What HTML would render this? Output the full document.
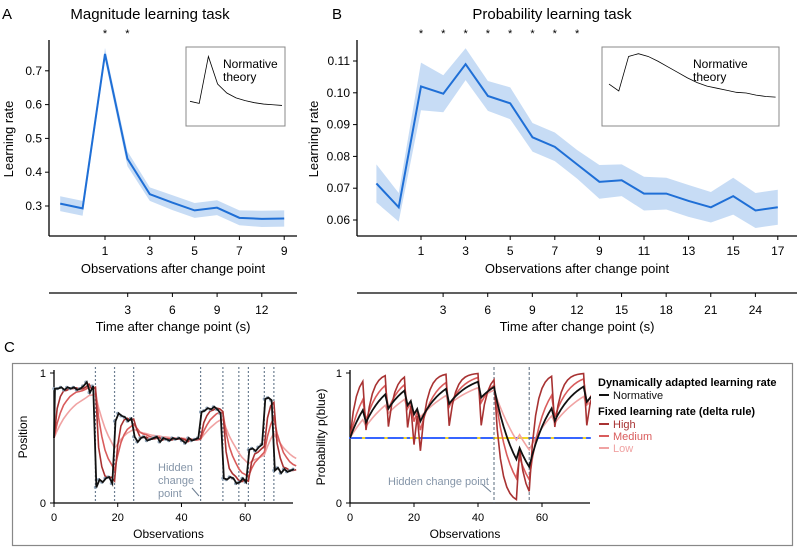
<!DOCTYPE html>
<html><head><meta charset="utf-8"><style>
body{margin:0;background:#fff}
svg{font-family:"Liberation Sans",sans-serif}
</style></head><body>
<svg id="fig" width="800" height="550" viewBox="0 0 800 550" xmlns="http://www.w3.org/2000/svg">
<g id="gA"></g>
<g id="gB"></g>
<g id="gC"></g>
</svg>
<script>
// Panel A data
const aObs = [-1,0,1,2,3,4,5,6,7,8,9];
const aMean = [0.307,0.293,0.75,0.44,0.335,0.31,0.287,0.295,0.265,0.262,0.263];
const aErr = [0.022,0.022,0.018,0.022,0.02,0.022,0.022,0.022,0.022,0.024,0.024];
const aInset = [0.3,0.27,0.95,0.55,0.42,0.35,0.31,0.28,0.26,0.25,0.24];
const aYTicks = [0.3,0.4,0.5,0.6,0.7];
const aXTicks = [1,3,5,7,9];
const aTimeTicks = [3,6,9,12];
const aStars = [1,2];
// Panel B data
const bObs = [-1,0,1,2,3,4,5,6,7,8,9,10,11,12,13,14,15,16,17];
const bMean = [0.0715,0.064,0.102,0.0997,0.109,0.099,0.0967,0.086,0.083,0.0775,0.072,0.0725,0.0683,0.0683,0.066,0.064,0.0675,0.063,0.064];
const bErr = [0.006,0.0045,0.0075,0.0058,0.005,0.0047,0.005,0.0045,0.0045,0.0045,0.0053,0.005,0.0053,0.005,0.005,0.0048,0.0058,0.0055,0.0055];
const bInset = [0.55,0.45,0.95,0.99,0.95,0.88,0.8,0.72,0.64,0.57,0.52,0.49,0.46,0.43,0.42,0.39,0.37,0.36];
const bYTicks = [0.06,0.07,0.08,0.09,0.10,0.11];
const bXTicks = [1,3,5,7,9,11,13,15,17];
const bTimeTicks = [3,6,9,12,15,18,21,24];
const bStars = [1,2,3,4,5,6,7,8];
// Panel C left data
const cChangePoints = [13,19,25,46,53,58,61,66,69];
const cSegStarts = [0,13,19,25,46,53,61,66,69];
const cSegLevels = [0.88,0.16,0.65,0.49,0.71,0.18,0.41,0.78,0.25];
const cNoise = [0,0,.01,-.01,.01,0,.01,-.01,0,.02,.05,-.03,.02,-.04,.02,0,.03,.04,-.01,-.02,.04,.02,.01,-.02,0,.02,-.02,.01,.02,-.01,0,.01,.02,-.02,.01,0,-.01,.01,0,.01,-.01,-.03,.01,-.01,0,.01,-.01,0,.02,.01,.03,.01,-.02,.01,0,.02,.01,-.03,-.02,.01,-.02,0,.01,-.01,.02,.04,.02,.03,.01,0,.02,-.02,.01,-.01,0,.01];
// Panel C right data (1 = blue, 0 = yellow)
const cOutcomes = [1,1,1,1,0,1,1,1,1,1,1,0,1,1,1,1,1,0,1,0,1,0,1,1,1,1,1,1,1,1,0,1,1,1,1,1,1,1,1,1,0,1,1,1,1,0,0,0,0,0,0,0,1,0,0,0,1,1,1,1,1,1,1,0,1,1,1,1,1,1,1,1,1,0,1,1];
const cRightCP = [45,56];

const NS="http://www.w3.org/2000/svg";
function mk(tag,attrs,parent,text){const e=document.createElementNS(NS,tag);for(const k in attrs)e.setAttribute(k,attrs[k]);if(text!==undefined)e.textContent=text;parent.appendChild(e);return e;}

function panel(g,cfg){
  const sx=v=>cfg.x0+(v-cfg.xv0)*cfg.xs;
  const sy=v=>cfg.y0-(v-cfg.yv0)*cfg.ys;
  let up=cfg.obs.map((o,i)=>sx(o)+','+sy(cfg.mean[i]+cfg.err[i]));
  let dn=cfg.obs.map((o,i)=>sx(o)+','+sy(cfg.mean[i]-cfg.err[i])).reverse();
  let band=mk('polygon',{points:up.concat(dn).join(' '),fill:'#c7dcf5'},g);
  
  
  let ln=mk('polyline',{points:cfg.obs.map((o,i)=>sx(o)+','+sy(cfg.mean[i])).join(' '),fill:'none',stroke:'#1f6fd6','stroke-width':2},g);
  
  
  mk('line',{x1:cfg.axX,y1:cfg.axTop,x2:cfg.axX,y2:236,stroke:'#000','stroke-width':1.3,},g);
  mk('line',{x1:cfg.axX,y1:236,x2:cfg.axR,y2:236,stroke:'#000','stroke-width':1.3,},g);
  cfg.yt.forEach(t=>{
    mk('line',{x1:cfg.axX-4,y1:sy(t),x2:cfg.axX,y2:sy(t),stroke:'#000'},g);
    let tx=mk('text',{x:cfg.axX-7,y:sy(t)+4,'font-size':12,'text-anchor':'end'},g,cfg.yfmt(t));
    
    
  });
  cfg.xt.forEach(t=>{
    mk('line',{x1:sx(t),y1:236,x2:sx(t),y2:240,stroke:'#000'},g);
    let tx=mk('text',{x:sx(t),y:255,'font-size':12,'text-anchor':'middle'},g,String(t));
    
    
  });
  cfg.stars.forEach(t=>{
    let s=mk('text',{x:sx(t),y:37,'font-size':11,'text-anchor':'middle'},g,'*');
    
    
  });
  mk('text',{x:(cfg.axX+cfg.axR)/2,y:273,'font-size':13,'text-anchor':'middle',},g,'Observations after change point');
  mk('line',{x1:cfg.axX,y1:293,x2:cfg.axR,y2:293,stroke:'#000','stroke-width':1.3,},g);
  cfg.tt.forEach(t=>{
    const x=cfg.tx0+t*cfg.txs;
    mk('line',{x1:x,y1:293,x2:x,y2:297,stroke:'#000'},g);
    let tx=mk('text',{x:x,y:314,'font-size':12,'text-anchor':'middle'},g,String(t));
    
    
  });
  mk('text',{x:(cfg.axX+cfg.axR)/2,y:331,'font-size':13,'text-anchor':'middle',},g,'Time after change point (s)');
  mk('text',{x:cfg.ylx,y:139,'font-size':13,'text-anchor':'middle',transform:`rotate(-90 ${cfg.ylx} 139)`,},g,'Learning rate');
  mk('text',{x:cfg.titleX,y:19,'font-size':15,'text-anchor':'middle',},g,cfg.title);
  mk('text',{x:cfg.letX,y:19,'font-size':15,},g,cfg.letter);
  const r=cfg.inset;
  mk('rect',{x:r[0],y:r[1],width:r[2],height:r[3],fill:'#fff',stroke:'#888',},g);
  let ip=mk('polyline',{points:cfg.insetData.map((v,i)=>(r[0]+r[4]+i*r[5])+','+(r[1]+r[3]-4-v*(r[3]-10))).join(' '),fill:'none',stroke:'#000','stroke-width':0.8},g);
  
  
  mk('text',{x:r[6],y:r[1]+21,'font-size':12},g,'Normative');
  mk('text',{x:r[6],y:r[1]+34,'font-size':12},g,'theory');
}

panel(document.getElementById('gA'),{obs:aObs,mean:aMean,err:aErr,x0:105,xv0:1,xs:22.4,y0:206,yv0:0.3,ys:338,
  axX:49,axR:297,axTop:40,yt:aYTicks,yfmt:t=>t.toFixed(1),xt:aXTicks,tt:aTimeTicks,tx0:83,txs:14.9,stars:aStars,
  ylx:13,title:'Magnitude learning task',titleX:150,letter:'A',letX:2,inset:[186,47,99,79,4,9.2,223],insetData:aInset});
panel(document.getElementById('gB'),{obs:bObs,mean:bMean,err:bErr,x0:421,xv0:1,xs:22.3,y0:220,yv0:0.06,ys:3180,
  axX:357,axR:797,axTop:40,yt:bYTicks,yfmt:t=>t.toFixed(2),xt:bXTicks,tt:bTimeTicks,tx0:398.5,txs:14.87,stars:bStars,
  ylx:318,title:'Probability learning task',titleX:552,letter:'B',letX:332,inset:[602,47,177,79,7,9.8,693],insetData:bInset});

// Panel C
const gC=document.getElementById('gC');
mk('text',{x:4,y:352,'font-size':15,},gC,'C');
mk('rect',{x:12.5,y:363.5,width:780,height:182,fill:'#fff',stroke:'#888','stroke-width':1.2,},gC);
const colHigh='#a83232',colMed='#d95c5c',colLow='#f0a3a3';
function delta(obs,a,start){let v=start,out=[];obs.forEach(o=>{out.push(v);v=v+a*(o-v);});out.push(v);return out;}
function drawLine(g,vals,sx,sy,col,w,name){
  let p=mk('polyline',{points:vals.map((v,i)=>sx(i)+','+sy(v)).join(' '),fill:'none',stroke:col,'stroke-width':w},g);
  
  
}
function cAxes(g,x0,x1,yl){
  const sx=v=>x0+v*(x1-x0)/75, sy=v=>503-v*130;
  mk('line',{x1:x0,y1:370,x2:x0,y2:503,stroke:'#000','stroke-width':1.3},g);
  mk('line',{x1:x0,y1:503,x2:x1,y2:503,stroke:'#000','stroke-width':1.3},g);
  [0,1].forEach(t=>{mk('line',{x1:x0-4,y1:sy(t),x2:x0,y2:sy(t),stroke:'#000'},g);
    mk('text',{x:x0-8,y:sy(t)+4,'font-size':11,'text-anchor':'end'},g,String(t));});
  [0,20,40,60].forEach(t=>{mk('line',{x1:sx(t),y1:503,x2:sx(t),y2:507,stroke:'#000'},g);
    mk('text',{x:sx(t),y:521,'font-size':11,'text-anchor':'middle'},g,String(t));});
  mk('text',{x:(x0+x1)/2-5,y:538,'font-size':12,'text-anchor':'middle',},g,'Observations');
  mk('text',{x:yl,y:437,'font-size':12,'text-anchor':'middle',transform:`rotate(-90 ${yl} 437)`,},g,yl<100?'Position':'Probability p(blue)');
  return [sx,sy];
}
// left
const gL=mk('g',{},gC);
const [lx,ly]=cAxes(gL,54,293,27);
const lObs=[];for(let i=0;i<76;i++){let s=0;cSegStarts.forEach((st,k)=>{if(i>=st)s=k;});lObs.push(cSegLevels[s]+cNoise[i]);}
cChangePoints.forEach(c=>{let l=mk('line',{x1:lx(c),y1:367,x2:lx(c),y2:503,stroke:'#6d7f92','stroke-width':1.2,'stroke-dasharray':'2,2'},gL);
  });
drawLine(gL,delta(lObs,0.15,0.5),lx,ly,colLow,1.6,'low-rate-line');
drawLine(gL,delta(lObs,0.3,0.5),lx,ly,colMed,1.6,'medium-rate-line');
drawLine(gL,delta(lObs,0.6,0.5),lx,ly,colHigh,1.6,'high-rate-line');
lObs.forEach((v,i)=>{let c=mk('circle',{cx:lx(i),cy:ly(v),r:1.6,fill:'#8fa3b8'},gL);});
drawLine(gL,[0.5].concat(lObs),i=>lx(Math.max(0,i-0.7)),ly,'#111',1.8,'normative-line');
mk('text',{x:158,y:471,'font-size':11,fill:'#8595a8'},gL,'Hidden');
mk('text',{x:158,y:484,'font-size':11,fill:'#8595a8'},gL,'change');
mk('text',{x:158,y:497,'font-size':11,fill:'#8595a8'},gL,'point');
mk('line',{x1:192,y1:488,x2:199,y2:496,stroke:'#6d7f92'},gL);
// right
const gR=mk('g',{},gC);
const [rx,ry]=cAxes(gR,350,590,325);
cOutcomes.forEach((o,i)=>{
  for(let k=0;k<3;k++){
    if(i===75&&k>0)continue;
    let d=mk('circle',{cx:rx(i+k/3),cy:ry(0.5),r:1,fill:o?'#2b5cff':'#f2d21b'},gR);
    
    
  }
});
cRightCP.forEach(c=>{let l=mk('line',{x1:rx(c),y1:367,x2:rx(c),y2:503,stroke:'#5a6b7e','stroke-width':1,'stroke-dasharray':'3,2'},gR);
  });
const clip=mk('clipPath',{id:'rc'},gR);mk('rect',{x:350,y:368,width:241,height:136},clip);
const gRc=mk('g',{'clip-path':'url(#rc)'},gR);
drawLine(gRc,delta(cOutcomes,0.08,0.5),rx,ry,colLow,1.6,'low-rate-line');
drawLine(gRc,delta(cOutcomes,0.2,0.5),rx,ry,colMed,1.6,'medium-rate-line');
drawLine(gRc,delta(cOutcomes,0.4,0.5),rx,ry,colHigh,1.6,'high-rate-line');
drawLine(gRc,delta(cOutcomes,0.13,0.5),rx,ry,'#111',1.8,'normative-line');
mk('text',{x:388,y:485,'font-size':11,fill:'#8595a8'},gR,'Hidden change point');
mk('line',{x1:482,y1:484,x2:491,y2:492,stroke:'#6d7f92'},gR);
// legend
const gLg=mk('g',{},gC);
mk('text',{x:598,y:386,'font-size':11,'font-weight':'bold'},gLg,'Dynamically adapted learning rate');
[['Normative','#111',399,false],['Fixed learning rate (delta rule)','#000',415,true],['High',colHigh,428,false],['Medium',colMed,440,false],['Low',colLow,452,false]].forEach(e=>{
  if(e[3]){mk('text',{x:598,y:e[2],'font-size':11,'font-weight':'bold'},gLg,e[0]);return;}
  let it=mk('g',{},gLg);
  mk('line',{x1:599,y1:e[2]-4,x2:609,y2:e[2]-4,stroke:e[1],'stroke-width':2},it);
  mk('text',{x:613,y:e[2],'font-size':11,fill:e[1]==='#111'?'#111':e[1]},it,e[0]);
});
</script>
</body></html>
